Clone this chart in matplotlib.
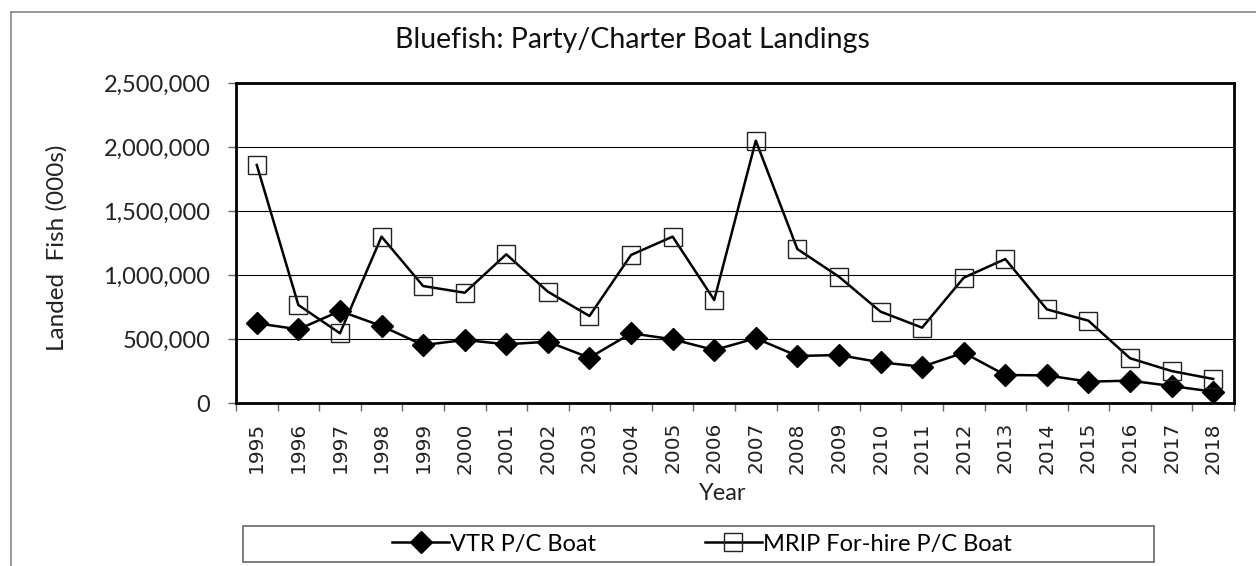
import matplotlib
matplotlib.use("Agg")
import matplotlib.pyplot as plt
from matplotlib.lines import Line2D
from matplotlib.patches import Rectangle
from matplotlib.ticker import FuncFormatter, FixedLocator
import numpy as np

# data
years = [str(y) for y in range(1995, 2019)]
vtr_pc = [625000, 578000, 721000, 604000, 455000, 495000, 461000, 481000,
          356000, 547000, 500000, 416000, 508000, 370000, 377000, 320000,
          286000, 395000, 221000, 218000, 169000, 177000, 135000, 91000]
mrip_pc = [1862000, 768000, 547000, 1302000, 916000, 864000, 1164000, 872000,
           682000, 1159000, 1302000, 807000, 2052000, 1205000, 989000, 716000,
           591000, 981000, 1127000, 734000, 645000, 352000, 252000, 190000]
yticks = [0, 500000, 1000000, 1500000, 2000000, 2500000]

W, H = 1256, 566
fig = plt.figure(figsize=(W / 100, H / 100), dpi=100)
ax = fig.add_axes([236 / W, 1 - 403.3 / H, (1234 - 236) / W, (403.3 - 83.3) / H])

x = np.arange(len(years))
l1, = ax.plot(x, vtr_pc, color="black", lw=1.8, marker="D", ms=11.5,
              mfc="black", mec="black", zorder=3)
l2, = ax.plot(x, mrip_pc, color="black", lw=1.8, marker="s", ms=13,
              mfc="none", mec="#222222", mew=1.0, zorder=3)

ax.set_xlim(-0.5, len(years) - 0.5)
ax.set_ylim(0, 2500000)
ax.set_yticks(yticks)
ax.yaxis.set_major_formatter(FuncFormatter(lambda v, p: f"{int(v):,}"))
ax.grid(axis="y", color="black", lw=0.8)
ax.set_axisbelow(True)

ax.set_xticks(x)
ax.set_xticklabels(years, rotation=90, fontsize=14.5, family="DejaVu Sans",
                   color="#222222")
ax.xaxis.set_minor_locator(FixedLocator(np.arange(-0.5, len(years), 1.0)))
ax.tick_params(axis="x", which="major", length=0, pad=13.5)
ax.tick_params(axis="x", which="minor", length=6, width=1, color="#666666")
ax.tick_params(axis="y", length=6, width=1, color="#666666", pad=12.5)
for lab in ax.get_yticklabels():
    lab.set_family("Lato")
    lab.set_fontsize(17)
    lab.set_color("#222222")

for s in ax.spines.values():
    s.set_linewidth(2)
    s.set_color("black")

fig.text(632 / W, 1 - 40 / H, "Bluefish: Party/Charter Boat Landings",
         ha="center", va="center", fontsize=20.5, family="Lato", color="#111111")
fig.text(57 / W, 1 - 248 / H, "Landed  Fish (000s)", rotation=90,
         ha="center", va="center", fontsize=17.5, family="Lato", color="#222222")
fig.text(723 / W, 1 - 493 / H, "Year", ha="center", va="center",
         fontsize=17, family="Lato", color="#222222")

# outer chart frame (left and top only visible in reference)
fig.add_artist(Line2D([11 / W, 11 / W], [0, 1 - 12 / H], transform=fig.transFigure,
                      color="#888888", lw=1.2))
fig.add_artist(Line2D([11 / W, 1], [1 - 12 / H, 1 - 12 / H], transform=fig.transFigure,
                      color="#888888", lw=1.2))

# legend box
fig.add_artist(Rectangle((243 / W, 1 - 562 / H), (1154 - 243) / W, (562 - 525.7) / H,
                         transform=fig.transFigure, fill=False, ec="#666666", lw=1.2))
fig.legend([l1, l2], ["VTR P/C Boat", "MRIP For-hire P/C Boat"], ncol=2,
           loc="center", bbox_to_anchor=(702 / W, 1 - 544 / H), frameon=False,
           prop={"family": "Lato", "size": 17}, handlelength=2.4,
           handletextpad=0.05, columnspacing=4.6, borderpad=0)

fig.savefig("out.png", dpi=100)
